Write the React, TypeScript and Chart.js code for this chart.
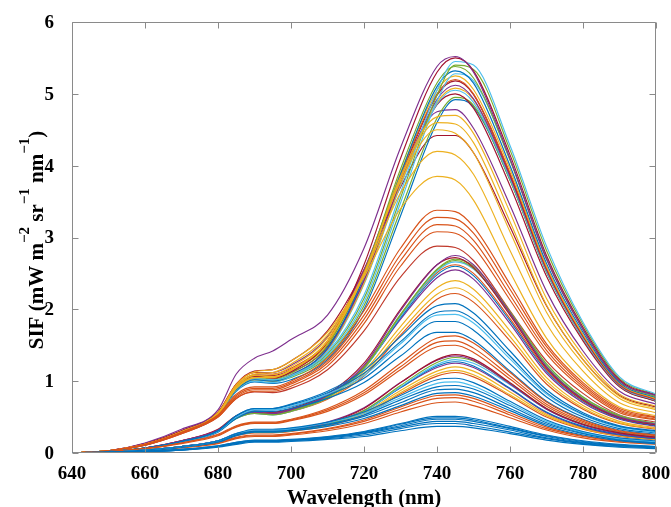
import React, { useEffect, useRef } from "react";
import { Chart, registerables } from "chart.js";

Chart.register(...registerables);

const BLUE = "#0072BD";
const ORANGE = "#D95319";
const YELLOW = "#EDB120";
const PURPLE = "#7E2F8E";
const GREEN = "#77AC30";
const CYAN = "#4DBEEE";
const MAROON = "#A2142F";

// wavelength grid (nm)
const wavelengths = [640, 650, 660, 670, 680, 685, 690, 695, 700, 710, 720, 730, 740, 745, 750, 760, 770, 780, 790, 800];
const xTickValues = [640, 660, 680, 700, 720, 740, 760, 780, 800];
const yTickValues = [0, 1, 2, 3, 4, 5, 6];
const xTitle = "Wavelength (nm)";
const yTitleParts = [
  { t: "SIF (mW m", sup: false },
  { t: "\u22122", sup: true },
  { t: " sr", sup: false },
  { t: "\u22121", sup: true },
  { t: " nm", sup: false },
  { t: "\u22121", sup: true },
  { t: ")", sup: false },
];

// top cluster, peak ~5-5.5
const topCluster = [
  [0, .03, .14, .33, .60, 1.10, 1.32, 1.42, 1.58, 1.92, 2.85, 4.25, 5.38, 5.52, 5.30, 4.10, 2.70, 1.72, 1.00, .80],
  [0, .03, .13, .31, .57, .93, 1.07, 1.04, 1.13, 1.55, 2.62, 4.10, 5.30, 5.50, 5.32, 4.15, 2.75, 1.75, 1.02, .80],
  [0, .03, .12, .30, .55, .90, 1.04, 1.02, 1.08, 1.40, 2.20, 3.62, 5.05, 5.45, 5.40, 4.28, 2.88, 1.82, 1.06, .82],
  [0, .03, .12, .30, .55, .90, 1.04, 1.02, 1.08, 1.38, 2.15, 3.55, 4.98, 5.40, 5.34, 4.22, 2.82, 1.79, 1.04, .81],
  [0, .03, .12, .30, .55, .91, 1.05, 1.03, 1.11, 1.50, 2.50, 3.95, 5.15, 5.38, 5.22, 4.08, 2.70, 1.72, 1.00, .78],
  [0, .03, .12, .29, .54, .88, 1.02, 1.00, 1.08, 1.46, 2.45, 3.88, 5.10, 5.32, 5.15, 4.00, 2.64, 1.68, .98, .77],
  [0, .03, .12, .29, .54, .89, 1.03, 1.01, 1.07, 1.36, 2.10, 3.48, 4.90, 5.28, 5.18, 4.08, 2.72, 1.72, 1.00, .78],
  [0, .03, .12, .30, .55, .92, 1.08, 1.06, 1.14, 1.52, 2.50, 3.90, 5.05, 5.25, 5.06, 3.95, 2.60, 1.65, .97, .76],
  [0, .03, .13, .31, .57, .96, 1.12, 1.10, 1.18, 1.56, 2.52, 3.88, 5.00, 5.20, 5.00, 3.90, 2.58, 1.64, .96, .75],
  [0, .03, .12, .30, .56, .93, 1.09, 1.08, 1.16, 1.53, 2.46, 3.84, 4.98, 5.18, 4.99, 3.88, 2.57, 1.63, .96, .75],
  [0, .03, .12, .29, .54, .89, 1.03, 1.01, 1.09, 1.45, 2.40, 3.78, 4.92, 5.12, 4.93, 3.85, 2.55, 1.62, .95, .74],
  [0, .03, .12, .29, .54, .88, 1.02, 1.00, 1.08, 1.44, 2.36, 3.74, 4.88, 5.08, 4.92, 3.86, 2.56, 1.62, .95, .74],
  [0, .03, .12, .29, .53, .87, 1.00, .98, 1.06, 1.42, 2.35, 3.72, 4.86, 5.05, 4.88, 3.82, 2.53, 1.60, .94, .73],
  [0, .03, .12, .30, .55, .92, 1.07, 1.05, 1.12, 1.48, 2.40, 3.75, 4.85, 5.00, 4.80, 3.72, 2.46, 1.56, .92, .72],
  [0, .03, .12, .29, .53, .88, 1.02, 1.00, 1.05, 1.34, 2.05, 3.38, 4.66, 4.95, 4.84, 3.80, 2.52, 1.59, .93, .72],
  [0, .03, .11, .28, .52, .86, .99, .97, 1.02, 1.30, 2.00, 3.30, 4.60, 4.92, 4.82, 3.80, 2.52, 1.60, .94, .72],
  [0, .03, .12, .30, .56, .95, 1.12, 1.12, 1.22, 1.62, 2.55, 3.85, 4.75, 4.78, 4.52, 3.45, 2.25, 1.42, .86, .68],
  [0, .03, .12, .30, .56, .96, 1.14, 1.16, 1.28, 1.70, 2.55, 3.70, 4.42, 4.42, 4.18, 3.15, 2.05, 1.30, .80, .64],
];
const topColors = [PURPLE, MAROON, CYAN, GREEN, GREEN, BLUE, CYAN, YELLOW, ORANGE, MAROON, PURPLE, YELLOW, CYAN, MAROON, GREEN, BLUE, PURPLE, MAROON];

// yellow intermediates, peak ~3.8-4.7
const yellowMid = [
  [0, .03, .12, .29, .54, .90, 1.05, 1.05, 1.15, 1.55, 2.48, 3.85, 4.68, 4.70, 4.45, 3.35, 2.15, 1.36, .82, .65],
  [0, .03, .12, .29, .54, .90, 1.05, 1.06, 1.16, 1.56, 2.48, 3.82, 4.60, 4.58, 4.32, 3.22, 2.06, 1.30, .79, .62],
  [0, .03, .12, .29, .55, .92, 1.08, 1.09, 1.20, 1.60, 2.50, 3.78, 4.50, 4.45, 4.18, 3.08, 1.96, 1.24, .76, .60],
  [0, .03, .12, .29, .55, .93, 1.10, 1.12, 1.24, 1.64, 2.48, 3.62, 4.20, 4.15, 3.88, 2.82, 1.80, 1.14, .70, .56],
  [0, .03, .12, .30, .56, .95, 1.13, 1.16, 1.28, 1.68, 2.45, 3.40, 3.85, 3.80, 3.52, 2.52, 1.60, 1.02, .64, .52],
];
const yellowColors = [YELLOW, YELLOW, YELLOW, YELLOW, YELLOW];

// orange-red intermediates, peak ~2.9-3.4
const redMid = [
  [0, .03, .12, .29, .53, .82, .92, .92, 1.00, 1.32, 1.98, 2.85, 3.38, 3.36, 3.15, 2.35, 1.52, .98, .62, .50],
  [0, .03, .12, .28, .52, .80, .90, .90, .98, 1.28, 1.92, 2.76, 3.28, 3.26, 3.06, 2.28, 1.48, .95, .60, .49],
  [0, .03, .11, .28, .51, .78, .88, .88, .96, 1.25, 1.86, 2.68, 3.18, 3.16, 2.96, 2.20, 1.43, .92, .58, .47],
  [0, .03, .11, .27, .50, .76, .86, .86, .93, 1.21, 1.80, 2.60, 3.08, 3.06, 2.87, 2.13, 1.38, .89, .56, .46],
  [0, .03, .11, .27, .50, .76, .85, .84, .90, 1.16, 1.70, 2.45, 2.88, 2.86, 2.68, 1.98, 1.28, .83, .53, .43],
];
const redColors = [ORANGE, ORANGE, ORANGE, ORANGE, "#C0392B"];

// middle cluster, peak ~2.2-2.75
const midCluster = [
  [0, .02, .07, .17, .32, .50, .57, .55, .60, .80, 1.22, 1.98, 2.62, 2.75, 2.62, 1.95, 1.20, .75, .50, .40],
  [0, .02, .07, .17, .33, .52, .59, .57, .62, .82, 1.25, 2.00, 2.62, 2.72, 2.58, 1.92, 1.18, .74, .49, .39],
  [0, .02, .07, .16, .31, .48, .55, .53, .58, .77, 1.18, 1.92, 2.56, 2.70, 2.60, 1.97, 1.24, .78, .52, .41],
  [0, .02, .07, .16, .31, .49, .56, .54, .59, .78, 1.19, 1.93, 2.55, 2.68, 2.57, 1.94, 1.21, .76, .51, .40],
  [0, .02, .07, .16, .31, .48, .55, .53, .58, .77, 1.17, 1.90, 2.53, 2.66, 2.56, 1.95, 1.23, .78, .52, .41],
  [0, .02, .07, .17, .32, .50, .57, .55, .60, .79, 1.20, 1.91, 2.51, 2.62, 2.50, 1.87, 1.16, .73, .49, .39],
  [0, .02, .07, .16, .31, .49, .56, .54, .59, .78, 1.18, 1.88, 2.48, 2.60, 2.47, 1.84, 1.14, .72, .48, .38],
  [0, .02, .07, .17, .32, .51, .58, .56, .61, .80, 1.19, 1.86, 2.44, 2.55, 2.42, 1.80, 1.11, .70, .47, .37],
  [0, .02, .07, .16, .31, .49, .56, .55, .60, .78, 1.14, 1.76, 2.30, 2.40, 2.28, 1.70, 1.05, .66, .44, .35],
  [0, .02, .07, .16, .31, .49, .56, .55, .59, .76, 1.10, 1.69, 2.21, 2.30, 2.18, 1.62, 1.00, .63, .42, .34],
  [0, .02, .07, .16, .30, .48, .55, .54, .58, .75, 1.07, 1.64, 2.14, 2.22, 2.10, 1.56, .96, .61, .41, .33],
];
const midColors = [PURPLE, MAROON, GREEN, GREEN, CYAN, ORANGE, BLUE, PURPLE, YELLOW, YELLOW, ORANGE];

// blue curves, peak ~1.7-2.1
const blueMid = [
  [0, .02, .07, .16, .31, .52, .62, .62, .68, .86, 1.15, 1.62, 2.05, 2.08, 1.95, 1.42, .88, .56, .38, .31],
  [0, .02, .07, .16, .31, .52, .62, .62, .67, .84, 1.11, 1.55, 1.96, 1.98, 1.86, 1.35, .84, .54, .37, .30],
  [0, .02, .06, .15, .30, .50, .60, .60, .65, .82, 1.08, 1.52, 1.92, 1.93, 1.81, 1.31, .82, .53, .36, .29],
  [0, .02, .06, .15, .30, .50, .60, .60, .64, .80, 1.04, 1.45, 1.83, 1.83, 1.71, 1.24, .78, .50, .34, .28],
  [0, .02, .06, .15, .29, .48, .58, .58, .62, .76, .98, 1.35, 1.68, 1.68, 1.57, 1.14, .72, .47, .32, .26],
];
const blueMidColors = [BLUE, BLUE, CYAN, BLUE, BLUE];

// orange curves, peak ~1.5-1.65
const orangeMid = [
  [0, .02, .06, .14, .26, .38, .43, .43, .47, .62, .87, 1.25, 1.60, 1.63, 1.53, 1.12, .71, .46, .31, .25],
  [0, .02, .06, .14, .25, .37, .42, .42, .46, .60, .84, 1.20, 1.54, 1.56, 1.46, 1.07, .68, .44, .30, .24],
  [0, .02, .06, .13, .24, .36, .41, .41, .45, .58, .81, 1.16, 1.48, 1.50, 1.40, 1.03, .65, .42, .29, .23],
];
const orangeMidColors = [ORANGE, ORANGE, ORANGE];

// lower cluster, peak ~1.1-1.37
const lowCluster = [
  [0, .01, .04, .09, .17, .26, .30, .30, .32, .42, .62, .98, 1.30, 1.37, 1.31, .98, .62, .40, .28, .22],
  [0, .01, .04, .09, .17, .27, .31, .31, .33, .43, .63, .98, 1.29, 1.35, 1.29, .96, .61, .39, .27, .21],
  [0, .01, .04, .09, .16, .25, .29, .29, .31, .40, .59, .94, 1.26, 1.33, 1.28, .97, .62, .40, .28, .22],
  [0, .01, .04, .09, .16, .25, .29, .29, .31, .40, .58, .92, 1.23, 1.30, 1.25, .95, .61, .40, .28, .22],
  [0, .01, .04, .09, .16, .25, .29, .29, .31, .40, .58, .91, 1.21, 1.27, 1.21, .90, .57, .37, .26, .20],
  [0, .01, .04, .09, .17, .26, .30, .30, .32, .41, .59, .91, 1.19, 1.25, 1.19, .89, .56, .36, .25, .20],
  [0, .01, .04, .09, .16, .25, .29, .29, .31, .39, .56, .87, 1.14, 1.20, 1.14, .85, .54, .35, .24, .19],
  [0, .01, .04, .09, .16, .25, .29, .29, .31, .39, .55, .84, 1.10, 1.15, 1.09, .81, .52, .34, .24, .19],
  [0, .01, .04, .09, .16, .24, .28, .28, .30, .38, .53, .82, 1.07, 1.12, 1.06, .79, .50, .33, .23, .18],
];
const lowColors = [MAROON, PURPLE, GREEN, CYAN, BLUE, PURPLE, YELLOW, YELLOW, ORANGE];

// blue curves, peak ~0.85-1.05
const blueLow = [
  [0, .01, .04, .09, .17, .27, .33, .33, .35, .43, .57, .80, 1.02, 1.04, .98, .72, .46, .30, .21, .17],
  [0, .01, .04, .09, .17, .27, .32, .32, .34, .42, .55, .77, .97, .99, .93, .69, .44, .29, .20, .16],
  [0, .01, .04, .09, .17, .26, .31, .31, .33, .40, .53, .74, .92, .94, .89, .66, .42, .28, .19, .15],
  [0, .01, .04, .08, .16, .25, .30, .30, .32, .39, .51, .70, .88, .89, .84, .62, .40, .27, .18, .14],
  [0, .01, .03, .08, .15, .24, .29, .29, .31, .37, .48, .66, .83, .84, .79, .59, .38, .25, .17, .13],
];
const blueLowColors = [BLUE, CYAN, BLUE, BLUE, BLUE];

// orange curves, peak ~0.7-0.82
const orangeLow = [
  [0, .01, .04, .08, .15, .22, .25, .25, .27, .34, .46, .64, .80, .81, .76, .56, .36, .24, .17, .14],
  [0, .01, .04, .08, .14, .21, .24, .24, .26, .33, .44, .61, .76, .77, .72, .53, .34, .23, .16, .13],
  [0, .01, .03, .07, .13, .20, .23, .23, .25, .31, .41, .57, .70, .71, .66, .49, .32, .21, .15, .12],
];
const orangeLowColors = [ORANGE, ORANGE, ORANGE];

// bottom blue curves, peak ~0.38-0.52
const bottomBlue = [
  [0, .01, .02, .05, .10, .15, .18, .18, .19, .23, .30, .41, .51, .51, .48, .37, .25, .17, .12, .09],
  [0, .01, .02, .05, .10, .15, .17, .17, .18, .22, .29, .40, .49, .49, .46, .35, .24, .16, .11, .09],
  [0, .01, .02, .05, .09, .14, .17, .17, .18, .22, .28, .38, .47, .47, .44, .34, .23, .15, .11, .08],
  [0, .01, .02, .04, .09, .14, .16, .16, .17, .21, .27, .36, .44, .44, .41, .32, .21, .14, .10, .07],
  [0, .01, .02, .04, .09, .13, .16, .16, .17, .20, .25, .34, .41, .41, .38, .29, .20, .13, .09, .07],
  [0, .01, .02, .04, .08, .12, .15, .15, .16, .19, .23, .31, .37, .37, .35, .27, .18, .12, .08, .06],
];
const bottomBlueColors = [BLUE, BLUE, BLUE, BLUE, BLUE, BLUE];

const groups: [number[][], string[]][] = [
  [bottomBlue, bottomBlueColors],
  [blueLow, blueLowColors],
  [orangeLow, orangeLowColors],
  [lowCluster, lowColors],
  [orangeMid, orangeMidColors],
  [blueMid, blueMidColors],
  [midCluster, midColors],
  [redMid, redColors],
  [yellowMid, yellowColors],
  [topCluster, topColors],
];

const FONT = '"Liberation Serif", "Times New Roman", serif';

const axisPlugin = {
  id: "matlabAxes",
  afterDraw(chart: any) {
    const { ctx, chartArea: a, scales } = chart;
    const xs = scales.x;
    const ys = scales.y;
    ctx.save();
    // box
    ctx.strokeStyle = "#8a8a8a";
    ctx.lineWidth = 1;
    const L = Math.round(a.left) + 0.5;
    const R = Math.round(a.right) - 0.5;
    const T = Math.round(a.top) + 0.5;
    const B = Math.round(a.bottom) - 0.5;
    ctx.beginPath();
    ctx.rect(L, T, R - L, B - T);
    ctx.stroke();
    // inward ticks
    const tl = 6;
    ctx.beginPath();
    xTickValues.forEach((v) => {
      const px = Math.round(xs.getPixelForValue(v)) + 0.5;
      ctx.moveTo(px, B);
      ctx.lineTo(px, B - tl);
      ctx.moveTo(px, T);
      ctx.lineTo(px, T + tl);
    });
    yTickValues.forEach((v) => {
      const py = Math.round(ys.getPixelForValue(v)) + 0.5;
      ctx.moveTo(L, py);
      ctx.lineTo(L + tl, py);
      ctx.moveTo(R, py);
      ctx.lineTo(R - tl, py);
    });
    ctx.stroke();

    // tick labels
    ctx.fillStyle = "#000";
    ctx.font = `bold 19px ${FONT}`;
    ctx.textAlign = "center";
    ctx.textBaseline = "alphabetic";
    xTickValues.forEach((v) => {
      ctx.fillText(String(v), xs.getPixelForValue(v), a.bottom + 26);
    });
    ctx.textAlign = "right";
    ctx.textBaseline = "middle";
    yTickValues.forEach((v) => {
      ctx.fillText(String(v), a.left - 18, ys.getPixelForValue(v) + 1);
    });

    // x title
    ctx.font = `bold 21px ${FONT}`;
    ctx.textAlign = "center";
    ctx.textBaseline = "alphabetic";
    ctx.fillText(xTitle, (a.left + a.right) / 2, 504);

    // y title with superscripts
    const mainFont = `bold 21px ${FONT}`;
    const supFont = `bold 15px ${FONT}`;
    let total = 0;
    const widths = yTitleParts.map((p) => {
      ctx.font = p.sup ? supFont : mainFont;
      const w = ctx.measureText(p.t).width;
      total += w;
      return w;
    });
    ctx.translate(43, 240);
    ctx.rotate(-Math.PI / 2);
    ctx.textAlign = "left";
    ctx.textBaseline = "alphabetic";
    let x = -total / 2;
    yTitleParts.forEach((p, i) => {
      ctx.font = p.sup ? supFont : mainFont;
      ctx.fillText(p.t, x, p.sup ? -14 : 0);
      x += widths[i];
    });
    ctx.restore();
  },
};

export default function App() {
  const ref = useRef<HTMLCanvasElement>(null);
  useEffect(() => {
    const datasets: any[] = [];
    groups.forEach(([rows, colors]) => {
      rows.forEach((row, i) => {
        datasets.push({
          data: row.map((y, j) => ({ x: wavelengths[j], y })),
          borderColor: colors[i],
          borderWidth: 1.15,
          pointRadius: 0,
          fill: false,
          cubicInterpolationMode: "monotone",
        });
      });
    });
    const chart = new Chart(ref.current as HTMLCanvasElement, {
      type: "line",
      data: { datasets },
      options: {
        animation: false,
        responsive: false,
        devicePixelRatio: 1,
        events: [],
        layout: { padding: { left: 0, right: 15, top: 22, bottom: 0 } },
        plugins: { legend: { display: false }, tooltip: { enabled: false } },
        scales: {
          x: {
            type: "linear",
            min: 640,
            max: 800,
            ticks: { display: false, stepSize: 20 },
            grid: { display: false, drawTicks: false },
            border: { display: false },
            afterFit: (s: any) => {
              s.height = 54;
            },
          },
          y: {
            type: "linear",
            min: 0,
            max: 6,
            ticks: { display: false, stepSize: 1 },
            grid: { display: false, drawTicks: false },
            border: { display: false },
            afterFit: (s: any) => {
              s.width = 72;
            },
          },
        },
      } as any,
      plugins: [axisPlugin],
    });
    return () => chart.destroy();
  }, []);
  return (
    <div style={{ position: "fixed", left: 0, top: 0, width: 671, height: 507, background: "#fff" }}>
      <canvas ref={ref} width={671} height={507} style={{ display: "block" }} />
    </div>
  );
}
